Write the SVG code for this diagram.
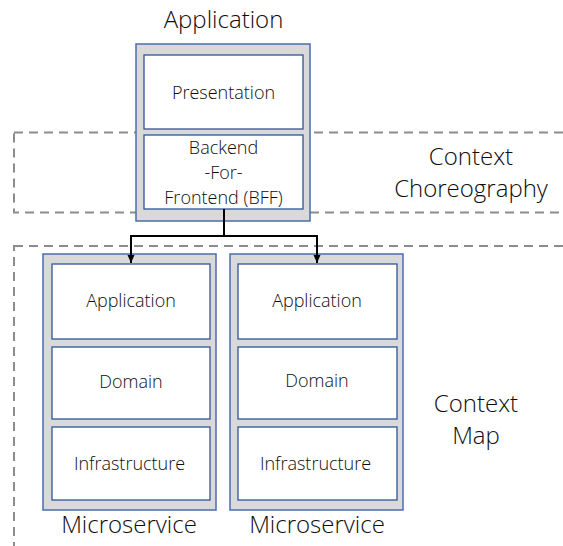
<svg xmlns="http://www.w3.org/2000/svg" width="563" height="546" viewBox="0 0 563 546">
  <style>
    .zone { fill: none; stroke: #8c8c8c; stroke-width: 2; stroke-dasharray: 9 6; }
    .outer { fill: #d9d9d9; stroke: #4a6ea8; stroke-width: 1.5; }
    .inner { fill: #ffffff; stroke: #2f5597; stroke-width: 1.3; }
    .big { font-family: "Open Sans", "Noto Sans", sans-serif; font-weight: 300; font-size: 24px; fill: #0d0d0d; text-anchor: middle; }
    .small { font-family: "Open Sans", "Noto Sans", sans-serif; font-weight: 300; font-size: 18px; fill: #0d0d0d; text-anchor: middle; }
    .wire { fill: none; stroke: #000000; stroke-width: 2; }
  </style>
  <defs>
    <marker id="arrow" viewBox="0 0 8 8" refX="8" refY="4" markerWidth="8" markerHeight="8" markerUnits="userSpaceOnUse" orient="auto">
      <path d="M0,0.5 L8,4 L0,7.5 Z" fill="#000000"/>
    </marker>
  </defs>

  <!-- dashed context zones, open to the right and bottom -->
  <g id="zone-choreography">
    <rect class="zone" x="14" y="132.5" width="600" height="80"/>
    <text class="big" x="471" y="165">Context</text>
    <text class="big" x="471" y="197">Choreography</text>
  </g>
  <g id="zone-map">
    <rect class="zone" x="14" y="246" width="600" height="400"/>
    <text class="big" x="476" y="412">Context</text>
    <text class="big" x="476" y="444">Map</text>
  </g>

  <!-- application with presentation and BFF layers -->
  <g id="application">
    <text class="big" x="223.5" y="28">Application</text>
    <rect class="outer" x="136" y="44" width="174" height="177"/>
    <rect class="inner" x="144" y="55" width="159" height="74"/>
    <text class="small" x="223.5" y="99">Presentation</text>
    <rect class="inner" x="144" y="135" width="159" height="74"/>
    <text class="small" x="223.5" y="153.5">Backend</text>
    <text class="small" x="223.5" y="178.5">-For-</text>
    <text class="small" x="223.5" y="204">Frontend (BFF)</text>
  </g>

  <!-- first microservice -->
  <g id="microservice-1">
    <rect class="outer" x="43" y="254" width="173" height="256"/>
    <rect class="inner" x="52" y="264" width="158" height="75"/>
    <text class="small" x="131" y="307">Application</text>
    <rect class="inner" x="52" y="347" width="158" height="72"/>
    <text class="small" x="131" y="388">Domain</text>
    <rect class="inner" x="52" y="427" width="158" height="73"/>
    <text class="small" x="129.5" y="470">Infrastructure</text>
    <text class="big" x="129" y="533">Microservice</text>
  </g>

  <!-- second microservice -->
  <g id="microservice-2">
    <rect class="outer" x="230" y="254" width="173" height="256"/>
    <rect class="inner" x="238" y="264" width="159" height="75"/>
    <text class="small" x="317" y="307">Application</text>
    <rect class="inner" x="238" y="347" width="159" height="72"/>
    <text class="small" x="317" y="387">Domain</text>
    <rect class="inner" x="238" y="427" width="159" height="73"/>
    <text class="small" x="315.5" y="470">Infrastructure</text>
    <text class="big" x="317" y="533">Microservice</text>
  </g>

  <!-- BFF fan-out to the microservices -->
  <g id="connectors">
    <path class="wire" d="M224,209 V236"/>
    <path class="wire" d="M224,236 H131 V263" marker-end="url(#arrow)"/>
    <path class="wire" d="M224,236 H317 V263" marker-end="url(#arrow)"/>
  </g>
</svg>
